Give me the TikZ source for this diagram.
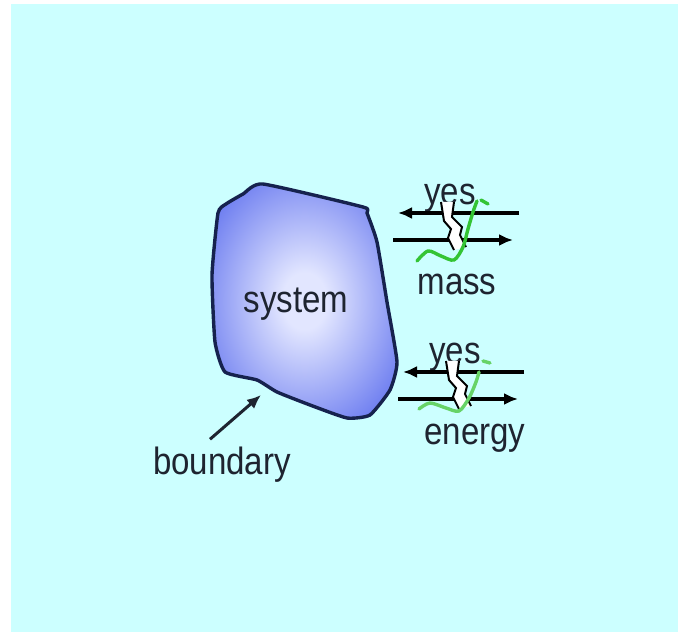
\documentclass[tikz,border=0pt]{standalone}
\usepackage{fontspec}
\setmainfont{Liberation Sans}
\usetikzlibrary{
  arrows.meta,
  positioning
}
\tikzset{>={Latex[length=14pt,width=12pt]}}
\definecolor{bgcyan}{RGB}{204,255,255}
\definecolor{blobmid}{RGB}{226,230,255}
\definecolor{blobedge}{RGB}{92,110,238}
\definecolor{navy}{RGB}{22,34,78}
\definecolor{txtgray}{RGB}{30,36,48}
\definecolor{wavegreen}{RGB}{52,196,52}
\pgfdeclareradialshading{blobshade}{\pgfpoint{0bp}{0bp}}{%
  color(0bp)=(blobmid); color(6bp)=(blobmid); color(34bp)=(blobedge); color(50bp)=(blobedge)}
\tikzset{lbl/.style={font=\fontsize{38}{40}\selectfont, xscale=0.87,
    text=txtgray, inner sep=0pt, anchor=base}}
\tikzset{flow/.style={line width=3.2pt, black}}
\tikzset{wave/.style={line width=3.4pt, wavegreen, line cap=round}}

\begin{document}
\begin{tikzpicture}[x=1pt, y=-1pt]
  \useasboundingbox (0,0) rectangle (678,636);
  \fill[bgcyan] (11,4) rectangle (678,632);
  % the system
  \shade[shading=blobshade, draw=navy, line width=3.4pt, line join=round]
    plot[smooth cycle, tension=0.3] coordinates {
      (263,184) (363,207) (367,213) (377,242) (387,302) (397,362)
      (390,390) (370,415) (347,418) (310,405) (277,392) (257,380)
      (225,372) (215,342) (212,275) (218,213) (226,204) (243,194)};
  \node[lbl] (sys) at (296,313) {system};
  \node[lbl] (bnd) at (222,475) {boundary};
  \coordinate (bndtip) at (261,395);
  \draw[->, line width=3pt, txtgray] ([shift={(-12,-8)}]bnd.north) -- (bndtip);
  % mass and energy crossing the boundary
  \foreach \dx/\dy in {0/0, 5/159} {
    \begin{scope}[shift={(\dx,\dy)}]
      \node[lbl] (yes\dy) at (450,205) {yes};
      \coordinate (intip\dy) at (398,213);
      \coordinate (inend\dy) at (519,213);
      \coordinate (outend\dy) at (393,240);
      \coordinate (outtip\dy) at (513,240);
      \draw[flow, ->] (inend\dy) -- (intip\dy);
      \draw[flow, ->] (outend\dy) -- (outtip\dy);
      % break in the lines
      \fill[white] (441,202) -- (444,221) -- (451,229) -- (448,238) -- (454,250)
        -- (466,247) -- (460,235) -- (462,227) -- (452,217) -- (454,202) -- cycle;
      \draw[line width=2pt] (441,202) -- (444,221) -- (451,229) -- (448,238) -- (454,250);
      \draw[line width=2pt] (466,247) -- (460,235) -- (462,227) -- (452,217) -- (454,202);
    \end{scope}
  }
  \draw[wave] plot[smooth] coordinates {(417,261) (428,251) (441,256) (454,260)
    (463,247) (468,229) (473,212) (477,201)};
  \draw[wave] (481,200) -- (488,204);
  \draw[wave, wavegreen!75] plot[smooth] coordinates {(419,409) (430,403) (446,408)
    (459,411) (469,398) (476,382) (479,372)};
  \draw[wave, wavegreen!75] (483,361) -- (490,363);
  \node[lbl] (mass) at (457,295) {mass};
  \node[lbl] (energy) at (475,445) {energy};
\end{tikzpicture}
\end{document}
